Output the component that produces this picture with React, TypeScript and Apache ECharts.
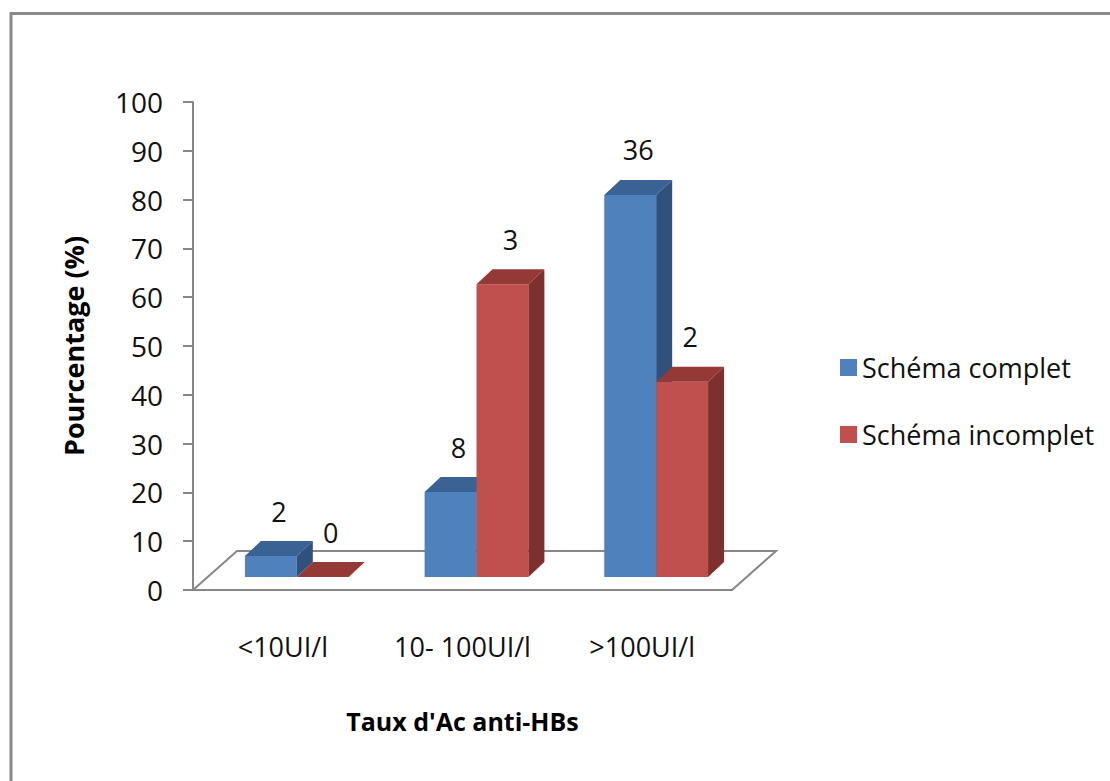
import React, { useEffect, useRef } from "react";
import * as echarts from "echarts";

// Antibody level classes on the horizontal axis
const categories = ["<10UI/l", "10- 100UI/l", ">100UI/l"];
const seriesNames = ["Schéma complet", "Schéma incomplet"];

// Percentage of each vaccination group per class (bar heights)
const completPercent = [4.3, 17.4, 78.3];
const incompletPercent = [0, 60, 40];

// Number of subjects written above each bar
const completCounts = [2, 8, 36];
const incompletCounts = [0, 3, 2];

const Y_MIN = 0;
const Y_MAX = 100;
const Y_STEP = 10;

const FONT = "'Open Sans', 'Noto Sans', sans-serif";

// Face shading of the 3D columns: front, top, right side
const FACE_COLORS = [
  { front: "#4F81BD", top: "#3B6294", side: "#30507D" },
  { front: "#C0504D", top: "#953937", side: "#7D302E" },
];

// Pseudo-3D geometry (pixels)
const BAR_RATIO = 52 / 180; // column width relative to a category band
const FRONT_DX = 14; // columns stand back from the floor's front edge
const FRONT_DY = 13;
const DEPTH_DX = 16; // column depth
const DEPTH_DY = 15;
const FLOOR_DX = 44; // floor depth
const FLOOR_DY = 39;
const LABEL_GAP = 30;

const AXIS_COLOR = "#878787";

function makeColumnRenderer(si: number) {
  return (params: any, api: any) => {
    const idx = api.value(0);
    const val = api.value(1);
    const base = api.coord([idx, 0]);
    const top = api.coord([idx, val]);
    const band = api.size([1, 0])[0];
    const w = band * BAR_RATIO;
    const x0 = base[0] + FRONT_DX - (si === 0 ? w : 0);
    const x1 = x0 + w;
    const yb = base[1] - FRONT_DY;
    const yt = top[1] - FRONT_DY;
    const c = FACE_COLORS[si];
    const children: any[] = [];
    const h = yb - yt;
    if (h > 0.5) {
      children.push({
        type: "rect",
        shape: { x: x0, y: yt, width: w, height: h },
        style: { fill: c.front },
      });
    }
    children.push({
      type: "polygon",
      shape: {
        points: [
          [x0, yt],
          [x0 + DEPTH_DX, yt - DEPTH_DY],
          [x1 + DEPTH_DX, yt - DEPTH_DY],
          [x1, yt],
        ],
      },
      style: { fill: c.top },
    });
    if (h > 0.5) {
      children.push({
        type: "polygon",
        shape: {
          points: [
            [x1, yt],
            [x1 + DEPTH_DX, yt - DEPTH_DY],
            [x1 + DEPTH_DX, yb - DEPTH_DY],
            [x1, yb],
          ],
        },
        style: { fill: c.side },
      });
    }
    children.push({
      type: "text",
      x: (x0 + x1) / 2 + DEPTH_DX / 2,
      y: yt - DEPTH_DY - LABEL_GAP,
      style: {
        text: String(api.value(2)),
        fill: "#111",
        fontSize: 27,
        fontFamily: FONT,
        align: "center",
        verticalAlign: "middle",
      },
    });
    return { type: "group", children };
  };
}

function renderFloor(params: any) {
  const cs = params.coordSys;
  const left = cs.x;
  const right = cs.x + cs.width;
  const bottom = cs.y + cs.height;
  return {
    type: "polygon",
    shape: {
      points: [
        [left, bottom],
        [right, bottom],
        [right + FLOOR_DX, bottom - FLOOR_DY],
        [left + FLOOR_DX, bottom - FLOOR_DY],
      ],
    },
    style: { fill: "#ffffff", stroke: AXIS_COLOR, lineWidth: 2 },
  };
}

export default function App() {
  const ref = useRef<HTMLDivElement>(null);

  useEffect(() => {
    if (!ref.current) return;
    const chart = echarts.init(ref.current, undefined, { renderer: "svg" });

    const groups = [
      { values: completPercent, counts: completCounts },
      { values: incompletPercent, counts: incompletCounts },
    ];

    chart.setOption({
      animation: false,
      backgroundColor: "#ffffff",
      textStyle: { fontFamily: FONT },
      graphic: [
        {
          type: "rect",
          silent: true,
          z: -10,
          shape: { x: 11, y: 13.5, width: 1300, height: 1000 },
          style: { fill: "none", stroke: "#898989", lineWidth: 3 },
        },
      ],
      grid: { left: 193, top: 102, width: 539, height: 488, containLabel: false },
      legend: {
        data: seriesNames,
        orient: "vertical",
        left: 835,
        top: 347,
        icon: "rect",
        itemWidth: 17,
        itemHeight: 17,
        itemGap: 36,
        textStyle: { fontSize: 27, lineHeight: 31, color: "#111", fontFamily: FONT },
      },
      xAxis: {
        type: "category",
        data: categories,
        boundaryGap: true,
        name: "Taux d'Ac anti-HBs",
        nameLocation: "middle",
        nameGap: 118,
        nameTextStyle: { fontSize: 25, fontWeight: "bold", color: "#000", fontFamily: FONT },
        axisLine: { lineStyle: { color: AXIS_COLOR, width: 2 } },
        axisTick: { length: 10, lineStyle: { color: AXIS_COLOR, width: 2 } },
        axisLabel: {
          fontSize: 27,
          color: "#111",
          margin: 43,
          fontFamily: FONT,
          interval: 0,
          hideOverlap: false,
        },
        splitLine: { show: false },
      },
      yAxis: {
        type: "value",
        min: Y_MIN,
        max: Y_MAX,
        interval: Y_STEP,
        name: "Pourcentage (%)",
        nameLocation: "middle",
        nameGap: 106,
        nameRotate: 90,
        nameTextStyle: { fontSize: 27, fontWeight: "bold", color: "#000", fontFamily: FONT },
        axisLine: { show: true, lineStyle: { color: AXIS_COLOR, width: 2 } },
        axisTick: { show: true, length: 10, lineStyle: { color: AXIS_COLOR, width: 2 } },
        axisLabel: { fontSize: 28, color: "#111", margin: 30, fontFamily: FONT },
        splitLine: { show: false },
      },
      series: [
        {
          type: "custom",
          name: "floor",
          silent: true,
          z: 1,
          renderItem: renderFloor,
          data: [[0, 0]],
          encode: { x: 0, y: 1 },
        },
        ...groups.map((g, si) => ({
          type: "custom",
          name: seriesNames[si],
          z: 2 + si,
          itemStyle: { color: FACE_COLORS[si].front },
          renderItem: makeColumnRenderer(si),
          encode: { x: 0, y: 1 },
          data: categories.map((_, i) => [i, g.values[i], g.counts[i]]),
        })),
      ],
    });

    return () => chart.dispose();
  }, []);

  return (
    <div
      ref={ref}
      style={{ position: "fixed", left: 0, top: 0, width: 1110, height: 781 }}
    />
  );
}
